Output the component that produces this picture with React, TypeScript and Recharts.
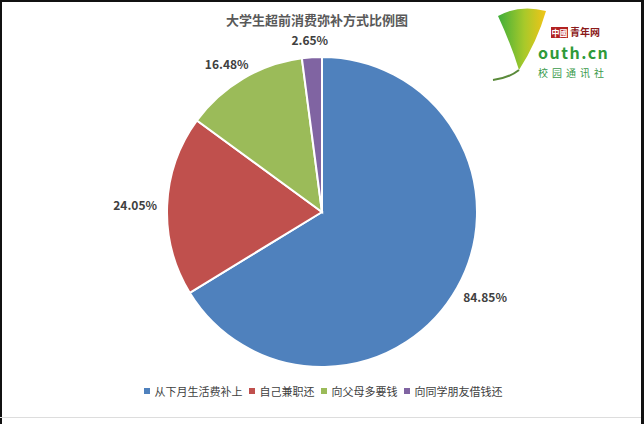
import React from 'react'
import { PieChart, Pie, Cell, Legend } from 'recharts'

// 大学生超前消费弥补方式比例图
const categories = ['从下月生活费补上', '自己兼职还', '向父母多要钱', '向同学朋友借钱还']
const shares = [84.85, 24.05, 16.48, 2.65]
const sliceLabels = ['84.85%', '24.05%', '16.48%', '2.65%']
const colors = ['#4F81BD', '#C0504D', '#9BBB59', '#8064A2']

const data = categories.map((name, i) => ({ name, value: shares[i], label: sliceLabels[i] }))

const FONT = '"Noto Sans CJK SC", "Noto Sans", sans-serif'
const RAD = Math.PI / 180

// Excel style "outside end" labels
const renderLabel = (props: any) => {
  const { cx, cy, outerRadius, midAngle, index } = props
  const r = outerRadius + 10
  const cos = Math.cos(-midAngle * RAD)
  const sin = Math.sin(-midAngle * RAD)
  const x = cx + r * cos + 22 * cos
  const y = cy + r * sin + 8 * sin
  return (
    <text
      x={x}
      y={y}
      textAnchor="middle"
      dominantBaseline="central"
      fill="#404040"
      fontSize={12}
      fontWeight="bold"
      fontFamily={FONT}
    >
      {data[index].label}
    </text>
  )
}

const renderLegend = () => (
  <div
    style={{
      display: 'flex',
      justifyContent: 'center',
      gap: 6,
      fontFamily: FONT,
      fontSize: 11,
      color: '#404040',
      paddingLeft: 2,
    }}
  >
    {categories.map((c, i) => (
      <div key={c} style={{ display: 'flex', alignItems: 'center' }}>
        <span style={{ width: 6, height: 6, background: colors[i], marginRight: 5, display: 'inline-block' }} />
        <span>{c}</span>
      </div>
    ))}
  </div>
)

const Logo = () => (
  <svg width={150} height={90} style={{ position: 'absolute', left: 485, top: 0 }}>
    <defs>
      <linearGradient id="leaf" x1="0" y1="0" x2="1" y2="0">
        <stop offset="0%" stopColor="#3fae3a" />
        <stop offset="55%" stopColor="#a8c92a" />
        <stop offset="100%" stopColor="#f2c417" />
      </linearGradient>
    </defs>
    <path d="M13 16 Q35 4 61 11 Q52 42 34 70 Q26 44 13 16 Z" fill="url(#leaf)" />
    <path d="M34 70 Q24 78 8 80" stroke="#5a8a3a" strokeWidth={2} fill="none" />
    <rect x={66} y={27} width={17} height={11} fill="#b22222" />
    <text x={74.5} y={35.5} textAnchor="middle" fontSize={8} fill="#fff" fontFamily={FONT} fontWeight="bold">中國</text>
    <text x={85} y={36} fontSize={10} fill="#8b1a1a" fontFamily={FONT} fontWeight="bold">青年网</text>
    <text x={53} y={59} fontSize={16} fill="#2f9a3a" fontFamily={FONT} fontWeight="bold" letterSpacing={1.5}>outh.cn</text>
    <text x={53} y={77} fontSize={10} fill="#3a9a4a" fontFamily={FONT} letterSpacing={4}>校园通讯社</text>
  </svg>
)

const App = () => {
  return (
    <div
      style={{
        position: 'absolute',
        left: 0,
        top: 0,
        width: 644,
        height: 424,
        background: '#fff',
        overflow: 'hidden',
      }}
    >
      <div
        style={{
          position: 'absolute',
          left: 0,
          top: 10,
          width: 634,
          textAlign: 'center',
          fontFamily: FONT,
          fontWeight: 'bold',
          fontSize: 13,
          color: '#595959',
        }}
      >
        大学生超前消费弥补方式比例图
      </div>
      <PieChart width={644} height={424} style={{ position: 'absolute', left: 0, top: 0 }}>
        <Pie
          data={data}
          dataKey="value"
          nameKey="name"
          cx={317}
          cy={207}
          outerRadius={155}
          startAngle={90}
          endAngle={-270}
          stroke="#fff"
          strokeWidth={2}
          label={renderLabel}
          labelLine={false}
          isAnimationActive={false}
        >
          {data.map((d, i) => (
            <Cell key={d.name} fill={colors[i]} />
          ))}
        </Pie>
        <Legend
          content={renderLegend}
          wrapperStyle={{ position: 'absolute', top: 383, left: 0, width: 644 }}
        />
      </PieChart>
      <Logo />
      {/* photo frame */}
      <div style={{ position: 'absolute', left: 0, top: 0, width: 2, height: 424, background: '#111' }} />
      <div style={{ position: 'absolute', left: 0, top: 0, width: 644, height: 2, background: '#111' }} />
      <div style={{ position: 'absolute', right: 0, top: 0, width: 3, height: 424, background: '#111' }} />
      <div style={{ position: 'absolute', left: 0, top: 417, width: 641, height: 1, background: '#ddd' }} />
    </div>
  )
}

export default App
